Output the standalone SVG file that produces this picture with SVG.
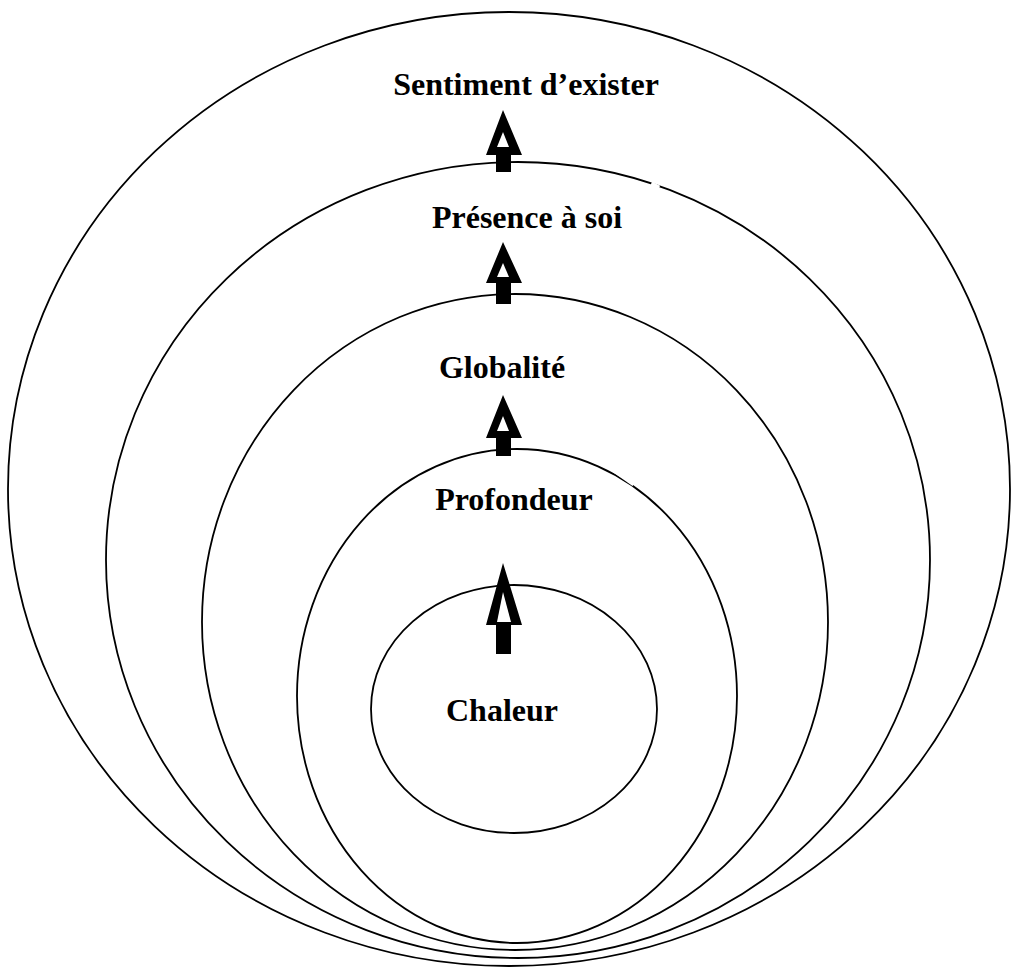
<svg xmlns="http://www.w3.org/2000/svg" width="1013" height="971" viewBox="0 0 1013 971">
<style>
.c{fill:none;stroke:#000;stroke-width:1.8}
.t{font-family:"Liberation Serif","Times New Roman",serif;font-weight:bold;font-size:32px;fill:#000}
.ab{fill:#000}
.aw{fill:#fff}
</style>
<rect width="1013" height="971" fill="#fff"/>
<g id="connectors">
</g>
<g id="n1"><ellipse class="c" cx="509" cy="489" rx="501" ry="477"/><text class="t" x="526" y="95" text-anchor="middle">Sentiment d’exister</text></g>
<g id="n2"><ellipse class="c" cx="518" cy="560" rx="412" ry="398"/><text class="t" x="527" y="228" text-anchor="middle">Présence à soi</text></g>
<g id="n3"><ellipse class="c" cx="515" cy="622" rx="313" ry="328"/><text class="t" x="502" y="378" text-anchor="middle">Globalité</text></g>
<g id="n4"><ellipse class="c" cx="517" cy="696" rx="220" ry="247"/><text class="t" x="514" y="510" text-anchor="middle">Profondeur</text></g>
<g id="n5"><ellipse class="c" cx="514" cy="709" rx="143" ry="124"/><text class="t" x="502" y="721" text-anchor="middle">Chaleur</text></g>
<g id="gaps" stroke="#fff" stroke-width="5">
<line x1="651" y1="184" x2="659" y2="188"/>
<line x1="614" y1="470" x2="634" y2="484"/>
</g>
<g id="arrows">
<g id="a1"><path class="ab" d="M503 110 L522 155 L511 155 L511 172 L496 172 L496 155 L486 155 Z"/><path class="aw" d="M503 132 L509 147 L497 147 Z"/></g>
<g id="a2"><path class="ab" d="M503 242 L522 283 L511 283 L511 304 L496 304 L496 283 L486 283 Z"/><path class="aw" d="M503 263 L509 277 L497 277 Z"/></g>
<g id="a3"><path class="ab" d="M503 395 L522 438 L511 438 L511 456 L496 456 L496 438 L486 438 Z"/><path class="aw" d="M503 416 L509 431 L497 431 Z"/></g>
<g id="a4"><path class="ab" d="M503 563 L522 625 L511 625 L511 654 L496 654 L496 625 L486 625 Z"/><path class="aw" d="M503 592 L511 622 L497 622 Z"/></g>
</g>
</svg>
